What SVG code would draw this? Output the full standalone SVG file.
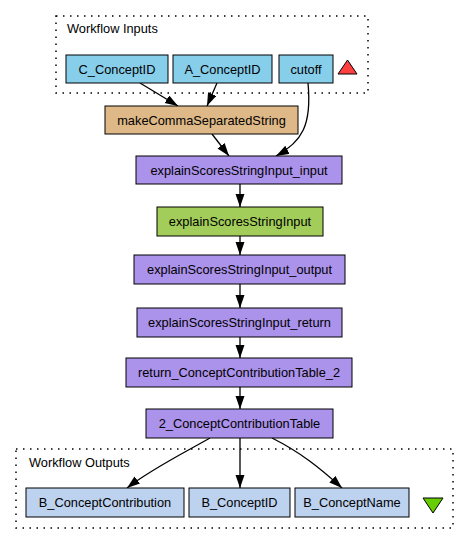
<svg xmlns="http://www.w3.org/2000/svg" width="469" height="544" viewBox="0 0 469 544">
<style>
  .lbl { font-family: "Liberation Sans", Arial, sans-serif; font-size: 12.8px; fill: #000; text-anchor: middle; }
  .title { font-family: "Liberation Sans", Arial, sans-serif; font-size: 12.8px; fill: #000; }
  .node { stroke: #000; stroke-width: 1; }
  .in { fill: #87ceeb; }
  .bean { fill: #deb887; }
  .xml { fill: #ab92ea; }
  .wsdl { fill: #a2cd5a; }
  .out { fill: #bcd2ee; }
  .cluster { fill: none; stroke: #000; stroke-width: 1.5; stroke-dasharray: 1.5,5.5; }
  .edge { fill: none; stroke: #000; stroke-width: 1.3; marker-end: url(#arrow); }
</style>
<defs>
  <marker id="arrow" markerUnits="userSpaceOnUse" markerWidth="13" markerHeight="10" refX="13" refY="4.5" orient="auto">
    <path d="M0,0 L13,4.5 L0,9 z" fill="#000"/>
  </marker>
</defs>
<rect width="469" height="544" fill="#fff"/>

<g id="cluster_inputs">
  <rect class="cluster" x="56" y="16" width="312" height="77"/>
  <text class="title" x="67" y="33">Workflow Inputs</text>
</g>
<g id="cluster_outputs">
  <rect class="cluster" x="16" y="449" width="437" height="79"/>
  <text class="title" x="29" y="467">Workflow Outputs</text>
</g>

<g id="connectors">
  <path class="edge" d="M140,83 L178,106"/>
  <path class="edge" d="M217,83 L207,106"/>
  <path class="edge" d="M308,83 C312,125 302,142 276,156"/>
  <path class="edge" d="M212,134 L229,156"/>
  <path class="edge" d="M240,184 L240,207"/>
  <path class="edge" d="M240,236 L240,255"/>
  <path class="edge" d="M240,284 L240,308"/>
  <path class="edge" d="M240,337 L240,358"/>
  <path class="edge" d="M240,387 L240,409"/>
  <path class="edge" d="M210,438 C180,455 150,470 127,488"/>
  <path class="edge" d="M240,438 L240,488"/>
  <path class="edge" d="M272,438 C300,452 320,468 342,488"/>
</g>

<g id="C_ConceptID">
  <rect class="node in" x="66" y="55" width="102" height="28"/>
  <text class="lbl" x="117" y="73.5">C_ConceptID</text>
</g>
<g id="A_ConceptID">
  <rect class="node in" x="173" y="55" width="99" height="28"/>
  <text class="lbl" x="222.5" y="73.5">A_ConceptID</text>
</g>
<g id="cutoff">
  <rect class="node in" x="279" y="55" width="54" height="28"/>
  <text class="lbl" x="306" y="73.5">cutoff</text>
</g>
<g id="inputs_marker">
  <polygon points="338,74 357,74 347.5,60" fill="#ff4040" stroke="#000" stroke-width="1"/>
</g>
<g id="makeCommaSeparatedString">
  <rect class="node bean" x="105" y="106" width="193" height="28"/>
  <text class="lbl" x="201.5" y="124.5">makeCommaSeparatedString</text>
</g>
<g id="explainScoresStringInput_input">
  <rect class="node xml" x="136" y="156" width="206" height="28"/>
  <text class="lbl" x="239" y="174.5">explainScoresStringInput_input</text>
</g>
<g id="explainScoresStringInput">
  <rect class="node wsdl" x="157" y="207" width="166" height="29"/>
  <text class="lbl" x="240" y="226">explainScoresStringInput</text>
</g>
<g id="explainScoresStringInput_output">
  <rect class="node xml" x="134" y="255" width="211" height="29"/>
  <text class="lbl" x="239.5" y="274">explainScoresStringInput_output</text>
</g>
<g id="explainScoresStringInput_return">
  <rect class="node xml" x="137" y="308" width="205" height="29"/>
  <text class="lbl" x="239.5" y="327">explainScoresStringInput_return</text>
</g>
<g id="return_ConceptContributionTable_2">
  <rect class="node xml" x="126" y="358" width="226" height="29"/>
  <text class="lbl" x="239" y="377">return_ConceptContributionTable_2</text>
</g>
<g id="n2_ConceptContributionTable">
  <rect class="node xml" x="146" y="409" width="187" height="29"/>
  <text class="lbl" x="239.5" y="428">2_ConceptContributionTable</text>
</g>
<g id="B_ConceptContribution">
  <rect class="node out" x="26" y="488" width="158" height="29"/>
  <text class="lbl" x="105" y="507">B_ConceptContribution</text>
</g>
<g id="B_ConceptID">
  <rect class="node out" x="189" y="488" width="101" height="29"/>
  <text class="lbl" x="239.5" y="507">B_ConceptID</text>
</g>
<g id="B_ConceptName">
  <rect class="node out" x="295" y="488" width="114" height="29"/>
  <text class="lbl" x="352" y="507">B_ConceptName</text>
</g>
<g id="outputs_marker">
  <polygon points="423,498 443,498 433,513" fill="#66cd00" stroke="#000" stroke-width="1"/>
</g>
</svg>
